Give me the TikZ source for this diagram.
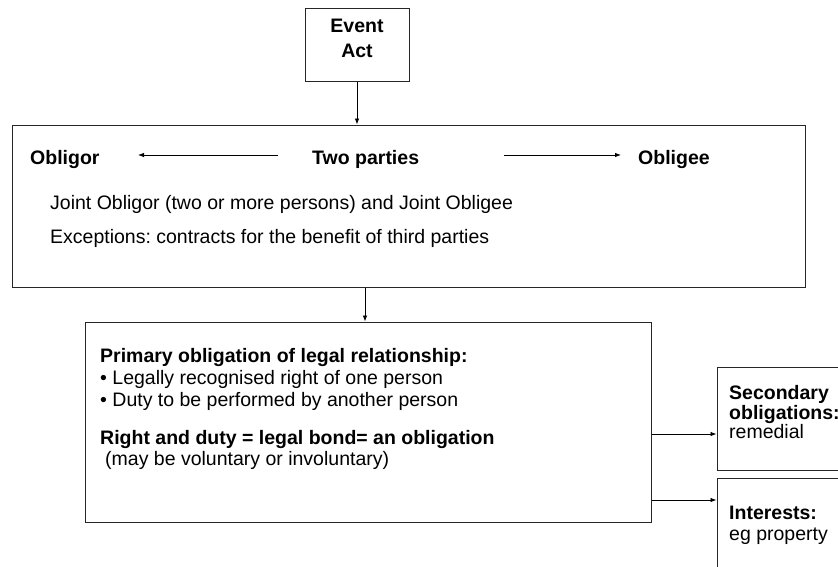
\documentclass[tikz,border=0pt]{standalone}
\usepackage{fontspec}
\setmainfont{Liberation Sans}
\usetikzlibrary{arrows.meta, positioning}
\frenchspacing

\begin{document}
\begin{tikzpicture}[x=1pt, y=-1pt,
    box/.style={draw=black!85, line width=1pt, rectangle, inner sep=0pt},
    txt/.style={anchor=base west, inner sep=0pt, font=\fontsize{19.5}{25}\selectfont},
    bold/.style={txt, font=\fontsize{19.5}{25}\selectfont\bfseries},
    arrow/.style={-{Latex[length=6pt, width=4.5pt]}, line width=0.8pt}
]
    \useasboundingbox (0,0) rectangle (838,566);
    \clip (0,0) rectangle (838,566);

    % boxes
    \node[box, minimum width=104pt, minimum height=73pt] (event) at (357,44.5) {};
    \node[box, minimum width=793pt, minimum height=162pt] (parties) at (408.5,206) {};
    \node[box, minimum width=566pt, minimum height=200pt] (primary) at (368,422) {};
    \node[box, minimum width=143pt, minimum height=103pt] (secondary) at (788.5,418.5) {};
    \node[box, minimum width=143pt, minimum height=122pt] (interests) at (788.5,539) {};

    % texts
    \node[bold, anchor=center, align=center] (eventtxt) at (357,38) {Event\\Act};
    \node[bold] (obligor) at (30,164) {Obligor};
    \node[bold] (two) at (312,164) {Two parties};
    \node[bold] (obligee) at (638,164) {Obligee};
    \node[txt] (joint) at (50,209) {Joint Obligor (two or more persons) and Joint Obligee};
    \node[txt] (except) at (50,243) {Exceptions: contracts for the benefit of third parties};

    \node[bold] (primtitle) at (100,362) {Primary obligation of legal relationship:};
    \node[txt] (right) at (100,384) {\textbullet\ Legally recognised right of one person};
    \node[txt] (duty) at (100,406) {\textbullet\ Duty to be performed by another person};
    \node[bold] (bond) at (100,444) {Right and duty = legal bond= an obligation};
    \node[txt] (volun) at (105,465) {(may be voluntary or involuntary)};

    \node[bold] (sectxt) at (729,399) {Secondary};
    \node[bold] (obltxt) at (729,419) {obligations:};
    \node[txt] (remedial) at (729,438) {remedial};
    \node[bold] (inttxt) at (729,519) {Interests:};
    \node[txt] (property) at (729,540) {eg property};

    % connectors
    \coordinate (twoleft) at (278,155);
    \coordinate (obligorend) at (138,155);
    \coordinate (tworight) at (504,155);
    \coordinate (obligeeend) at (621,155);

    \draw[arrow] (event.south) -- (event.south |- parties.north);
    \draw[arrow] (twoleft) -- (obligorend);
    \draw[arrow] (tworight) -- (obligeeend);
    \draw[arrow] ([xshift=-3pt]primary.north |- parties.south) -- ([xshift=-3pt]primary.north);
    \draw[arrow] (primary.east |- 0,434) -- (secondary.west |- 0,434);
    \draw[arrow] (primary.east |- 0,500) -- (interests.west |- 0,500);
\end{tikzpicture}
\end{document}
